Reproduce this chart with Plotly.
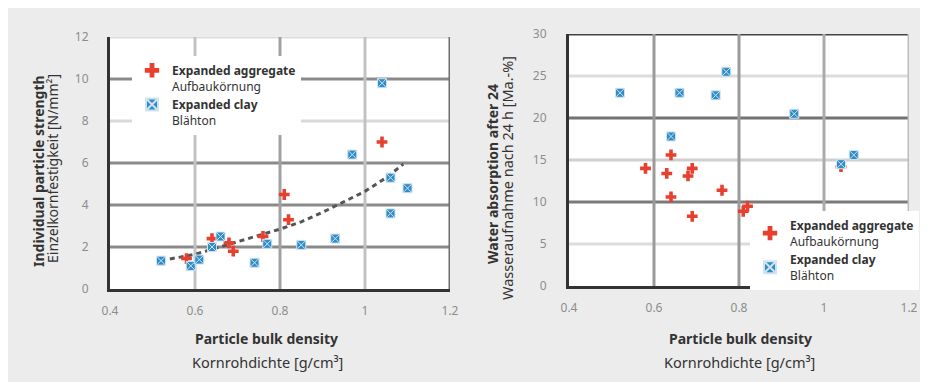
import plotly.graph_objects as go

# ---------------- data ----------------
# Left chart: individual particle strength [N/mm²] vs particle bulk density [g/cm³]
agg_density_L = [0.58, 0.64, 0.68, 0.69, 0.76, 0.81, 0.82, 1.04]
agg_strength_L = [1.45, 2.4, 2.2, 1.8, 2.5, 4.5, 3.3, 7.0]

clay_density_L = [0.52, 0.59, 0.61, 0.64, 0.66, 0.74, 0.77, 0.85, 0.93, 0.97, 1.04, 1.06, 1.06, 1.10]
clay_strength_L = [1.35, 1.1, 1.4, 2.0, 2.5, 1.25, 2.15, 2.1, 2.4, 6.4, 9.8, 5.3, 3.6, 4.8]

trend_density = [0.52, 0.55, 0.60, 0.65, 0.70, 0.75, 0.80, 0.85, 0.90, 0.95, 1.00, 1.05, 1.09]
trend_strength = [1.35, 1.45, 1.65, 1.95, 2.25, 2.55, 2.85, 3.2, 3.65, 4.15, 4.65, 5.3, 5.95]

# Right chart: water absorption after 24 h [Ma.-%] vs particle bulk density
agg_density_R = [0.58, 0.63, 0.64, 0.64, 0.68, 0.69, 0.69, 0.76, 0.81, 0.82, 1.04]
agg_water_R = [14.0, 13.4, 15.6, 10.6, 13.1, 14.0, 8.3, 11.4, 8.9, 9.5, 14.2]

clay_density_R = [0.52, 0.64, 0.66, 0.745, 0.77, 0.93, 1.04, 1.07]
clay_water_R = [23.0, 17.8, 23.0, 22.7, 25.5, 20.5, 14.5, 15.6]

x_ticks = [0.4, 0.6, 0.8, 1.0, 1.2]
y_ticks_L = [0, 2, 4, 6, 8, 10, 12]
y_ticks_R = [0, 5, 10, 15, 20, 25, 30]

name_agg = "<b>Expanded aggregate</b><br>Aufbaukörnung"
name_clay = "<b>Expanded clay</b><br>Blähton"

# ---------------- styles ----------------
OFF = 8                      # page body margin
W, H = 928 - OFF, 382 - OFF
FONT = "Noto Sans"
RED = "#e8402f"
BLUE = "#2f8cc8"
TXT = "#333333"
TICK = "#8c8c8c"

def px_x(p):
    return (p - OFF) / W

def px_y(p):
    return 1 - (p - OFF) / H

fig = go.Figure()

red_marker = dict(symbol="cross", size=9, color=RED, line=dict(width=0))
blue_marker = dict(symbol="square-x", size=9, color=BLUE, line=dict(width=1, color="#cfe3f1"))

fig.add_trace(go.Scatter(x=trend_density, y=trend_strength, mode="lines",
                         line=dict(color="#555555", width=3, dash="5px,4px"),
                         showlegend=False, hoverinfo="skip", xaxis="x", yaxis="y"))
fig.add_trace(go.Scatter(x=agg_density_L, y=agg_strength_L, mode="markers", marker=red_marker,
                         name=name_agg, legend="legend", xaxis="x", yaxis="y"))
fig.add_trace(go.Scatter(x=clay_density_L, y=clay_strength_L, mode="markers", marker=blue_marker,
                         name=name_clay, legend="legend", xaxis="x", yaxis="y"))
fig.add_trace(go.Scatter(x=agg_density_R, y=agg_water_R, mode="markers", marker=red_marker,
                         name=name_agg, legend="legend2", xaxis="x2", yaxis="y2"))
fig.add_trace(go.Scatter(x=clay_density_R, y=clay_water_R, mode="markers", marker=blue_marker,
                         name=name_clay, legend="legend2", xaxis="x2", yaxis="y2"))

axis_common = dict(showgrid=False, zeroline=False, ticks="", automargin=False,
                   tickfont=dict(family=FONT, size=12, color=TICK),
                   showline=True, linecolor="#333333", linewidth=3)

fig.update_layout(
    width=W, height=H,
    margin=dict(l=0, r=0, t=0, b=0, autoexpand=False),
    paper_bgcolor="#ececec",
    plot_bgcolor="white",
    font=dict(family=FONT, color=TXT),
    xaxis=dict(domain=[px_x(110), px_x(450)], range=[0.4, 1.2], tickvals=x_ticks,
               anchor="y", ticklabelstandoff=9, **axis_common),
    yaxis=dict(domain=[px_y(289), px_y(37)], range=[0, 12], tickvals=y_ticks_L,
               anchor="x", ticklabelstandoff=16, **axis_common),
    xaxis2=dict(domain=[px_x(569), px_x(909)], range=[0.4, 1.2], tickvals=x_ticks,
                anchor="y2", ticklabelstandoff=9, **axis_common),
    yaxis2=dict(domain=[px_y(286), px_y(34)], range=[0, 30], tickvals=y_ticks_R,
                anchor="x2", ticklabelstandoff=17, **axis_common),
    legend=dict(x=px_x(132), y=px_y(56), xanchor="left", yanchor="top",
                bgcolor="white", borderwidth=0, valign="top",
                font=dict(family=FONT, size=12, color=TXT), tracegroupgap=0,
                itemsizing="constant"),
    legend2=dict(x=px_x(750), y=px_y(211), xanchor="left", yanchor="top",
                 bgcolor="white", borderwidth=0, valign="middle",
                 font=dict(family=FONT, size=12, color=TXT), tracegroupgap=0,
                 itemsizing="constant"),
)

# grid lines (per-line colours as in the original)
grid_L_h = {2: "#8a8a8a", 4: "#8a8a8a", 6: "#8a8a8a", 8: "#d9d9d9", 10: "#8a8a8a", 12: "#dddddd"}
grid_L_v = {0.6: "#c2c2c2", 0.8: "#a0a0a0", 1.0: "#c2c2c2", 1.2: "#6e6e6e"}
grid_R_h = {5: "#dcdcdc", 10: "#7a7a7a", 15: "#cfcfcf", 20: "#737373", 25: "#dcdcdc", 30: "#444444"}
grid_R_v = {0.6: "#9a9a9a", 0.8: "#9a9a9a", 1.0: "#ababab", 1.2: "#bdbdbd"}

def add_grid(hmap, vmap, xa, ya):
    for v, c in hmap.items():
        fig.add_shape(type="line", xref=f"{xa} domain", yref=ya, x0=0, x1=1, y0=v, y1=v,
                      line=dict(color=c, width=3), layer="below")
    for v, c in vmap.items():
        fig.add_shape(type="line", xref=xa, yref=f"{ya} domain", x0=v, x1=v, y0=0, y1=1,
                      line=dict(color=c, width=3), layer="below")

add_grid(grid_L_h, grid_L_v, "x", "y")
add_grid(grid_R_h, grid_R_v, "x2", "y2")

# axis titles
def ann(text, x, y, size, angle=0):
    fig.add_annotation(text=text, x=px_x(x), y=px_y(y), xref="paper", yref="paper",
                       showarrow=False, textangle=angle, xanchor="center", yanchor="middle",
                       font=dict(family=FONT, size=size, color=TXT))

ann("<b>Particle bulk density</b>", 266, 338, 14)
ann("Kornrohdichte [g/cm³]", 267, 362, 14.5)
ann("<b>Particle bulk density</b>", 740, 338, 14)
ann("Kornrohdichte [g/cm³]", 739, 362, 14.5)
ann("<b>Individual particle strength</b>", 38, 171, 14, -90)
ann("Einzelkornfestigkeit [N/mm²]", 53, 169, 14, -90)
ann("<b>Water absorption after 24</b>", 492, 174, 14, -90)
ann("Wasseraufnahme nach 24 h [Ma.-%]", 507, 178, 14.5, -90)

fig.write_html("out.html")
